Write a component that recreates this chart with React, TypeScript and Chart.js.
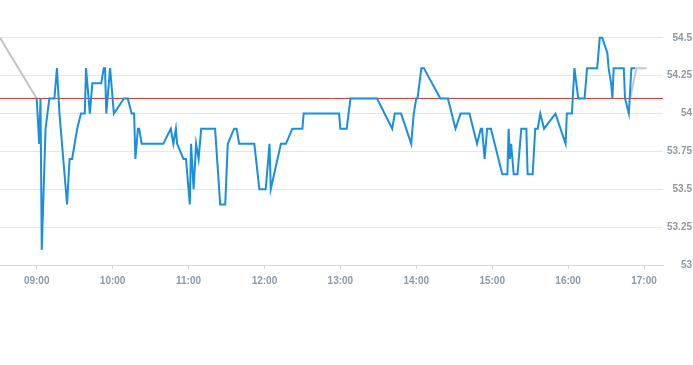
import React, { useEffect, useRef } from "react";
import { Chart, registerables } from "chart.js";

Chart.register(...registerables);

// ---- data ----
const times: string[] = [
  "09:00", "09:02", "09:03", "09:04", "09:07", "09:10", "09:14", "09:16", "09:18", "09:24",
  "09:26", "09:28", "09:32", "09:35", "09:38", "09:39", "09:42", "09:44", "09:51", "09:53",
  "09:54", "09:55", "09:58", "10:01", "10:09", "10:12", "10:15", "10:17", "10:18", "10:20",
  "10:21", "10:23", "10:40", "10:46", "10:48", "10:50", "10:51", "10:56", "10:58", "11:01",
  "11:02", "11:04", "11:06", "11:08", "11:10", "11:21", "11:25", "11:29", "11:31", "11:36",
  "11:38", "11:40", "11:52", "11:56", "12:01", "12:04", "12:05", "12:13", "12:17", "12:22",
  "12:30", "12:31", "12:59", "13:00", "13:05", "13:08", "13:29", "13:41", "13:43", "13:48",
  "13:56", "13:58", "14:00", "14:01", "14:04", "14:06", "14:19", "14:25", "14:28", "14:31",
  "14:35", "14:42", "14:48", "14:51", "14:52", "14:54", "14:56", "14:59", "15:08", "15:12",
  "15:13", "15:14", "15:15", "15:17", "15:20", "15:23", "15:27", "15:28", "15:32", "15:34",
  "15:36", "15:38", "15:41", "15:50", "15:58", "15:59", "16:03", "16:05", "16:08", "16:13",
  "16:15", "16:23", "16:25", "16:27", "16:31", "16:32", "16:34", "16:35", "16:36", "16:44",
  "16:45", "16:48", "16:50", "16:53",
];
const prices: number[] = [
  54.1, 53.8, 54.1, 53.1, 53.9, 54.1, 54.1, 54.3, 54.0, 53.4,
  53.7, 53.7, 53.9, 54.0, 54.0, 54.3, 54.0, 54.2, 54.2, 54.3,
  54.3, 54.0, 54.3, 54.0, 54.1, 54.1, 54.0, 54.0, 53.7, 53.9,
  53.9, 53.8, 53.8, 53.9, 53.8, 53.9, 53.8, 53.7, 53.7, 53.4,
  53.8, 53.5, 53.8, 53.7, 53.9, 53.9, 53.4, 53.4, 53.8, 53.9,
  53.9, 53.8, 53.8, 53.5, 53.5, 53.8, 53.5, 53.8, 53.8, 53.9,
  53.9, 54.0, 54.0, 53.9, 53.9, 54.1, 54.1, 53.9, 54.0, 54.0,
  53.8, 54.0, 54.1, 54.1, 54.3, 54.3, 54.1, 54.1, 54.0, 53.9,
  54.0, 54.0, 53.8, 53.9, 53.9, 53.7, 53.9, 53.9, 53.6, 53.6,
  53.9, 53.7, 53.8, 53.6, 53.6, 53.9, 53.9, 53.6, 53.6, 53.9,
  53.9, 54.0, 53.9, 54.0, 53.8, 54.0, 54.0, 54.3, 54.1, 54.1,
  54.3, 54.3, 54.5, 54.5, 54.4, 54.3, 54.2, 54.1, 54.3, 54.3,
  54.1, 54.0, 54.3, 54.3,
];
const preTimes: string[] = ["08:31", "09:00"];
const prePrices: number[] = [54.5, 54.1];
const postTimes: string[] = ["16:49", "16:54", "17:02"];
const postPrices: number[] = [54.1, 54.3, 54.3];
const prevClose = 54.1;
const xRange: string[] = ["08:31", "17:15"];
const xTickLabels: string[] = ["09:00", "10:00", "11:00", "12:00", "13:00", "14:00", "15:00", "16:00", "17:00"];
const yTicks: number[] = [53, 53.25, 53.5, 53.75, 54, 54.25, 54.5];
const yRange: number[] = [53, 54.684];

const toMin = (t: string) => {
  const [h, m] = t.split(":").map(Number);
  return h * 60 + m;
};
const pad = (n: number) => (n < 10 ? "0" + n : "" + n);
const fmt = (v: number) => pad(Math.floor(v / 60)) + ":" + pad(Math.round(v % 60));

const FONT = { family: "'Liberation Sans', Arial, sans-serif", size: 10, weight: "bold" as const };
const LABEL_COLOR = "#8d98a4";

export default function App() {
  const ref = useRef<HTMLCanvasElement | null>(null);
  useEffect(() => {
    if (!ref.current) return;
    const xMin = toMin(xRange[0]);
    const xMax = toMin(xRange[1]);
    const chart = new Chart(ref.current, {
      type: "line",
      data: {
        datasets: [
          {
            label: "price",
            data: times.map((t, i) => ({ x: toMin(t), y: prices[i] })),
            borderColor: "#1a8fe0",
            borderWidth: 2,
            pointRadius: 0,
            tension: 0,
            order: 1,
          },
          {
            label: "pre",
            data: preTimes.map((t, i) => ({ x: toMin(t), y: prePrices[i] })),
            borderColor: "#bfc4c9",
            borderWidth: 2,
            pointRadius: 0,
            order: 3,
          },
          {
            label: "post",
            data: postTimes.map((t, i) => ({ x: toMin(t), y: postPrices[i] })),
            borderColor: "#bccad6",
            borderWidth: 2,
            pointRadius: 0,
            order: 3,
          },
          {
            label: "prevClose",
            data: [
              { x: xMin, y: prevClose },
              { x: xMax, y: prevClose },
            ],
            borderColor: "#d4322c",
            borderWidth: 1,
            pointRadius: 0,
            order: 2,
          },
        ],
      },
      options: {
        animation: false,
        responsive: false,
        layout: { padding: { bottom: 78, right: 1 } },
        plugins: { legend: { display: false }, tooltip: { enabled: false } },
        scales: {
          x: {
            type: "linear",
            min: xMin,
            max: xMax,
            afterBuildTicks: (axis: any) => {
              axis.ticks = xTickLabels.map((l) => ({ value: toMin(l) }));
            },
            afterFit: (axis: any) => {
              axis.height = 22;
            },
            grid: {
              drawOnChartArea: false,
              drawTicks: true,
              tickLength: 4,
              color: "#d5d8dc",
            },
            border: { display: true, color: "#d5d8dc" },
            ticks: {
              padding: 6,
              maxRotation: 0,
              autoSkip: false,
              color: LABEL_COLOR,
              font: FONT,
              callback: (v: any) => fmt(Number(v)),
            },
          },
          y: {
            type: "linear",
            position: "right",
            min: yRange[0],
            max: yRange[1],
            afterBuildTicks: (axis: any) => {
              axis.ticks = yTicks.map((v) => ({ value: v }));
            },
            afterFit: (axis: any) => {
              axis.width = 29;
            },
            grid: { drawTicks: false, color: "#e4e6ea" },
            border: { display: false },
            ticks: {
              padding: 4,
              crossAlign: "far",
              color: LABEL_COLOR,
              font: FONT,
              callback: (v: any) => String(Number(v)),
            },
          },
        },
      },
    });
    return () => chart.destroy();
  }, []);
  return (
    <div style={{ position: "fixed", left: 0, top: 0, width: 693, height: 365, background: "#fff" }}>
      <canvas ref={ref} width={693} height={365} style={{ display: "block" }} />
    </div>
  );
}
